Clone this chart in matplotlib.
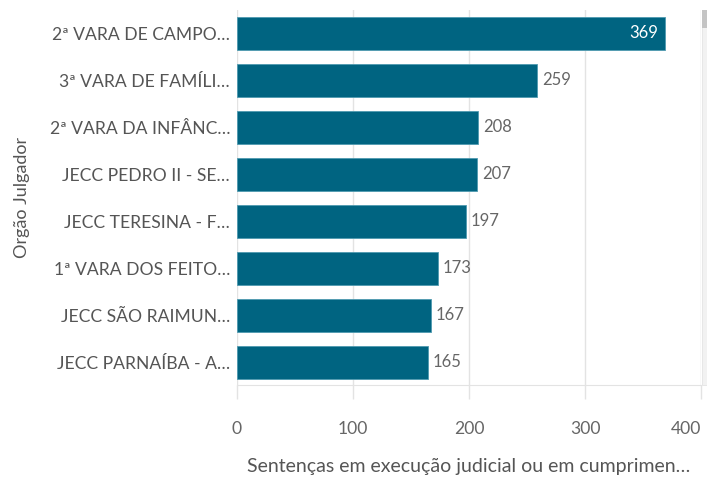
import matplotlib
matplotlib.use("Agg")
from matplotlib import pyplot as plt
from matplotlib.patches import Rectangle

# dados
orgaos = ["2ª VARA DE CAMPO…", "3ª VARA DE FAMÍLI…", "2ª VARA DA INFÂNC…",
          "JECC PEDRO II - SE…", "JECC TERESINA - F…", "1ª VARA DOS FEITO…",
          "JECC SÃO RAIMUN…", "JECC PARNAÍBA - A…"]
valores = [369, 259, 208, 207, 197, 173, 167, 165]
xticks = [0, 100, 200, 300, 400]

plt.rcParams['font.family'] = ['Lato', 'DejaVu Sans']

W, H = 707, 479
fig = plt.figure(figsize=(W / 100, H / 100), dpi=100)
ax = fig.add_axes([237 / W, 1 - 385 / H, (701 - 237) / W, (385 - 10) / H])

cor = "#006481"
pos = list(range(len(orgaos)))
ax.barh(pos, valores, height=0.7, color=cor, edgecolor="#4f9ab0", linewidth=0.6, zorder=3)

ax.set_xlim(0, 400)
ax.set_ylim(7.48, -0.49)
ax.set_yticks(pos)
ax.set_yticklabels(orgaos, fontsize=12.6, color="#555555")
ax.set_xticks(xticks)
ax.set_xticklabels([str(t) for t in xticks], fontsize=12.6, color="#666666")
ax.get_xticklabels()[-1].set_horizontalalignment("right")

ax.grid(axis="x", color="#e3e3e3", linewidth=1, zorder=0)
ax.tick_params(axis="y", length=0, pad=5)
ax.tick_params(axis="x", length=10, width=1, color="#e3e3e3", pad=16)
for s in ["top", "right", "left"]:
    ax.spines[s].set_visible(False)
ax.spines["bottom"].set_color("#e3e3e3")

for i, v in enumerate(valores):
    if v > 300:
        ax.text(v - 6, i, str(v), ha="right", va="center", fontsize=12, color="white", zorder=4)
    else:
        ax.text(v + 4, i, str(v), ha="left", va="center", fontsize=12, color="#666666", zorder=4)

ax.set_xlabel("Sentenças em execução judicial ou em cumprimen…", fontsize=14, color="#555555", labelpad=15)
ax.set_ylabel("Orgão Julgador", fontsize=13, color="#555555", labelpad=14)

# barra de rolagem
fig.patches.append(Rectangle((702 / W, 1 - 385 / H), 5 / W, 375 / H, transform=fig.transFigure,
                             facecolor="#f2f2f2", edgecolor="#e0e0e0", linewidth=0.5))
fig.patches.append(Rectangle((702 / W, 1 - 28 / H), 5 / W, 18 / H, transform=fig.transFigure,
                             facecolor="#c4c4c4", edgecolor="none"))

fig.savefig("out.png", dpi=100)
